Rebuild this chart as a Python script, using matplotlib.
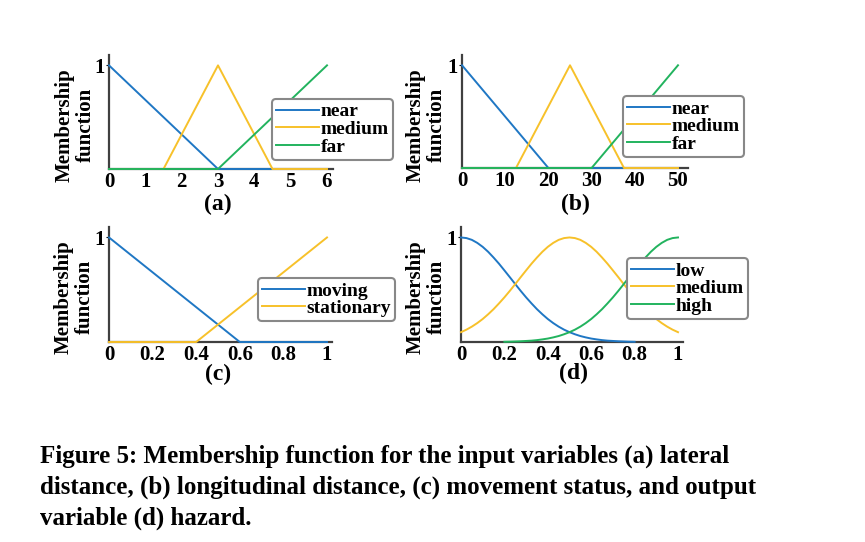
import matplotlib.pyplot as plt

plt.rcParams['font.family'] = 'Liberation Serif'
plt.rcParams['font.weight'] = 'bold'

blue = '#1f77c4'
yellow = '#f7c12a'
green = '#22b35e'

# (a) lateral distance
a_near_x = [0, 3, 6]
a_near_y = [1, 0, 0]
a_med_x = [0, 1.5, 3, 4.5, 6]
a_med_y = [0, 0, 1, 0, 0]
a_far_x = [0, 3, 6]
a_far_y = [0, 0, 1]
a_ticks = [0, 1, 2, 3, 4, 5, 6]

# (b) longitudinal distance
b_near_x = [0, 20, 50]
b_near_y = [1, 0, 0]
b_med_x = [0, 12.5, 25, 37.5, 50]
b_med_y = [0, 0, 1, 0, 0]
b_far_x = [0, 30, 50]
b_far_y = [0, 0, 1]
b_ticks = [0, 10, 20, 30, 40, 50]

# (c) movement status
c_mov_x = [0, 0.6, 1]
c_mov_y = [1, 0, 0]
c_sta_x = [0, 0.4, 1]
c_sta_y = [0, 0, 1]
c_ticks = [0, 0.2, 0.4, 0.6, 0.8, 1]
c_ticklabels = ['0', '0.2', '0.4', '0.6', '0.8', '1']

# (d) hazard, values read every 0.025
d_x = [0, 0.025, 0.05, 0.075, 0.1, 0.125, 0.15, 0.175, 0.2, 0.225,
       0.25, 0.275, 0.3, 0.325, 0.35, 0.375, 0.4, 0.425, 0.45, 0.475,
       0.5, 0.525, 0.55, 0.575, 0.6, 0.625, 0.65, 0.675, 0.7, 0.725,
       0.75, 0.775, 0.8, 0.825, 0.85, 0.875, 0.9, 0.925, 0.95, 0.975, 1]
d_low = [1, 0.994, 0.977, 0.948, 0.91, 0.863, 0.808, 0.749, 0.685, 0.62,
         0.554, 0.489, 0.427, 0.369, 0.314, 0.265, 0.22, 0.181, 0.147, 0.118,
         0.094, 0.074, 0.057, 0.044, 0.033, 0.025, 0.018, 0.013, 0.01, 0.007,
         0.005, 0.003, 0.002]
d_med = [0.094, 0.118, 0.147, 0.181, 0.22, 0.265, 0.314, 0.369, 0.427, 0.489,
         0.554, 0.62, 0.685, 0.749, 0.808, 0.863, 0.91, 0.948, 0.977, 0.994,
         1, 0.994, 0.977, 0.948, 0.91, 0.863, 0.808, 0.749, 0.685, 0.62,
         0.554, 0.489, 0.427, 0.369, 0.314, 0.265, 0.22, 0.181, 0.147, 0.118,
         0.094]
d_high = [0.002, 0.003, 0.005, 0.007, 0.01, 0.013, 0.018, 0.025, 0.033, 0.044,
          0.057, 0.074, 0.094, 0.118, 0.147, 0.181, 0.22, 0.265, 0.314, 0.369,
          0.427, 0.489, 0.554, 0.62, 0.685, 0.749, 0.808, 0.863, 0.91, 0.948,
          0.977, 0.994, 1]
d_ticklabels = c_ticklabels

caption_lines = ['Figure 5: Membership function for the input variables (a) lateral',
                 'distance, (b) longitudinal distance, (c) movement status, and output',
                 'variable (d) hazard.']

W, H = 865, 542
fig = plt.figure(figsize=(W / 100, H / 100), dpi=100)


def make_ax(x0, x1, y0, y1):
    # pixel box of the plot area -> figure fraction
    return fig.add_axes([x0 / W, 1 - y1 / H, (x1 - x0) / W, (y1 - y0) / H])


def style(ax, xmax, ticks, labels, lab_x, lab_y):
    ax.set_xlim(0, xmax)
    ax.set_ylim(0, 1.1)
    for s in ['top', 'right']:
        ax.spines[s].set_visible(False)
    for s in ['left', 'bottom']:
        ax.spines[s].set_color('#404040')
        ax.spines[s].set_linewidth(1.6)
    ax.set_xticks(ticks)
    ax.set_xticklabels(labels, fontsize=15, fontweight='bold')
    ax.set_yticks([1])
    ax.set_yticklabels(['1'], fontsize=15, fontweight='bold')
    ax.tick_params(axis='x', length=0, pad=2)
    ax.tick_params(axis='y', length=2, pad=1)
    ax.set_ylabel('Membership\nfunction', fontsize=15, fontweight='bold',
                  linespacing=1.1)
    ax.yaxis.set_label_coords(lab_x / W, 1 - lab_y / H, transform=fig.transFigure)


def letter(text, x, y):
    fig.text(x / W, 1 - y / H, text, ha='center', va='top', fontsize=17,
             fontweight='bold')


def add_legend(ax, x, y):
    leg = ax.legend(loc='upper left', bbox_to_anchor=(x / W, 1 - y / H),
                    bbox_transform=fig.transFigure,
                    handlelength=2.2, handletextpad=0.1, labelspacing=0.0,
                    borderpad=0.2, borderaxespad=0, fancybox=True,
                    framealpha=1, prop={'weight': 'bold', 'size': 14})
    leg.get_frame().set_edgecolor('#888888')
    leg.get_frame().set_linewidth(1.5)


lw = 1.4

ax = make_ax(109, 333, 55, 169)
ax.plot(a_near_x, a_near_y, color=blue, lw=lw, label='near', clip_on=False, zorder=3)
ax.plot(a_med_x, a_med_y, color=yellow, lw=lw, label='medium', clip_on=False, zorder=3)
ax.plot(a_far_x, a_far_y, color=green, lw=lw, label='far', clip_on=False, zorder=3)
style(ax, 6 * 224 / 218, a_ticks, [str(t) for t in a_ticks], 96, 125)
add_legend(ax, 272, 99)
letter('(a)', 218, 194)

ax = make_ax(462, 688, 55, 168)
ax.plot(b_near_x, b_near_y, color=blue, lw=lw, label='near', clip_on=False, zorder=3)
ax.plot(b_med_x, b_med_y, color=yellow, lw=lw, label='medium', clip_on=False, zorder=3)
ax.plot(b_far_x, b_far_y, color=green, lw=lw, label='far', clip_on=False, zorder=3)
style(ax, 50 * 226 / 216, b_ticks, [str(t) for t in b_ticks], 447, 125)
add_legend(ax, 623, 96)
letter('(b)', 575, 194)

ax = make_ax(109, 332, 227, 342)
ax.plot(c_mov_x, c_mov_y, color=blue, lw=lw, label='moving', clip_on=False, zorder=3)
ax.plot(c_sta_x, c_sta_y, color=yellow, lw=lw, label='stationary', clip_on=False, zorder=3)
style(ax, 1 * 223 / 218, c_ticks, c_ticklabels, 95, 297)
add_legend(ax, 258, 278)
letter('(c)', 218, 364)

ax = make_ax(461, 683, 227, 342)
ax.plot(d_x[:len(d_low)], d_low, color=blue, lw=lw, label='low', clip_on=False, zorder=3)
ax.plot(d_x, d_med, color=yellow, lw=lw, label='medium', clip_on=False, zorder=3)
ax.plot(d_x[-len(d_high):], d_high, color=green, lw=lw, label='high', clip_on=False, zorder=3)
style(ax, 1 * 222 / 217, c_ticks, d_ticklabels, 447, 297)
add_legend(ax, 627, 258)
letter('(d)', 573, 363)

for i, line in enumerate(caption_lines):
    fig.text(40 / W, 1 - (463 + 31 * i) / H, line, ha='left', va='baseline',
             fontsize=18, fontweight='bold')

fig.savefig('out.png', dpi=100)
